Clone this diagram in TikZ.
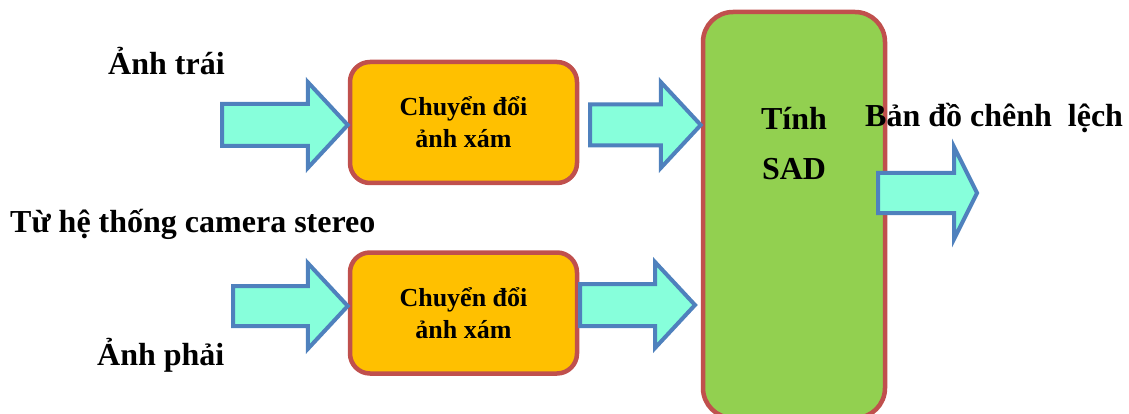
\documentclass[tikz,border=0pt]{standalone}
\usepackage{fontspec}
\setmainfont{Liberation Serif}
\usetikzlibrary{calc}
\definecolor{boxred}{HTML}{C0504D}
\definecolor{boxorange}{HTML}{FFC000}
\definecolor{sadgreen}{HTML}{92D050}
\definecolor{arrowfill}{HTML}{87FFDB}
\definecolor{arrowblue}{HTML}{4F81BD}
\tikzset{
	convbox/.style={draw=boxred, fill=boxorange, line width=4.5pt, rounded corners=20pt,
		minimum width=227pt, minimum height=121pt, align=center,
		font=\fontsize{26}{32}\selectfont\bfseries},
	sadbox/.style={draw=boxred, fill=sadgreen, line width=4.5pt, rounded corners=30pt,
		minimum width=182pt, minimum height=406pt},
	fatarrow/.style={draw=arrowblue, fill=arrowfill, line width=4pt},
	caption/.style={inner sep=0pt, font=\fontsize{32}{38}\selectfont\bfseries}
}
% block arrow: (tail)(tip)(shaft half:head half:head length)
\def\fatarrow(#1)(#2)(#3:#4:#5){\draw[fatarrow] ($(#1)+(0,-#3)$) -- ($(#2)+(-#5,-#3)$) -- ($(#2)+(-#5,-#4)$) -- (#2) -- ($(#2)+(-#5,#4)$) -- ($(#2)+(-#5,#3)$) -- ($(#1)+(0,#3)$) -- cycle;}

\begin{document}
\begin{tikzpicture}[x=1pt, y=-1pt]
		%%%%% START %%%%%
		\useasboundingbox (0,0) rectangle (1129,414);
		
		\node[sadbox] (sad) at (794,215) {};
		\node[convbox] (conv1) at (463.5,122.5) {Chuyển đổi\\ảnh xám};
		\node[convbox] (conv2) at (463.5,313) {Chuyển đổi\\ảnh xám};
		
		\coordinate (in1) at (222,125);
		\coordinate (tip1) at (conv1.west |- in1);
		\coordinate (in2) at (233,306);
		\coordinate (tip2) at (conv2.west |- in2);
		\coordinate (out1) at (590,125);
		\coordinate (tip3) at (sad.west |- out1);
		\coordinate (out2) at (580,305);
		\coordinate (tip4) at (695,305);
		\coordinate (sadout) at (878,193);
		\coordinate (map) at (977,193);
		
		\fatarrow(in1)(tip1)(21:43:40);
		\fatarrow(in2)(tip2)(20:43:40);
		\fatarrow(out1)(tip3)(20.5:43:40);
		\fatarrow(out2)(tip4)(21:43:40);
		\fatarrow(sadout)(map)(20:46:23);
		
		\node[caption, anchor=base] (sadtop) at (794,129.3) {Tính};
		\node[caption, anchor=base] (sadbot) at (794,180) {SAD};
		
		\node[caption, anchor=base west] (left) at (108,75) {Ảnh trái};
		\node[caption, anchor=base west] (source) at (10,232) {Từ hệ thống camera stereo};
		\node[caption, anchor=base west] (right) at (97,365) {Ảnh phải};
		\node[caption, anchor=base west] (disp) at (865,126.7) {Bản đồ chênh\ \ lệch};
		
		%%%%% END %%%%%
\end{tikzpicture}
\end{document}
